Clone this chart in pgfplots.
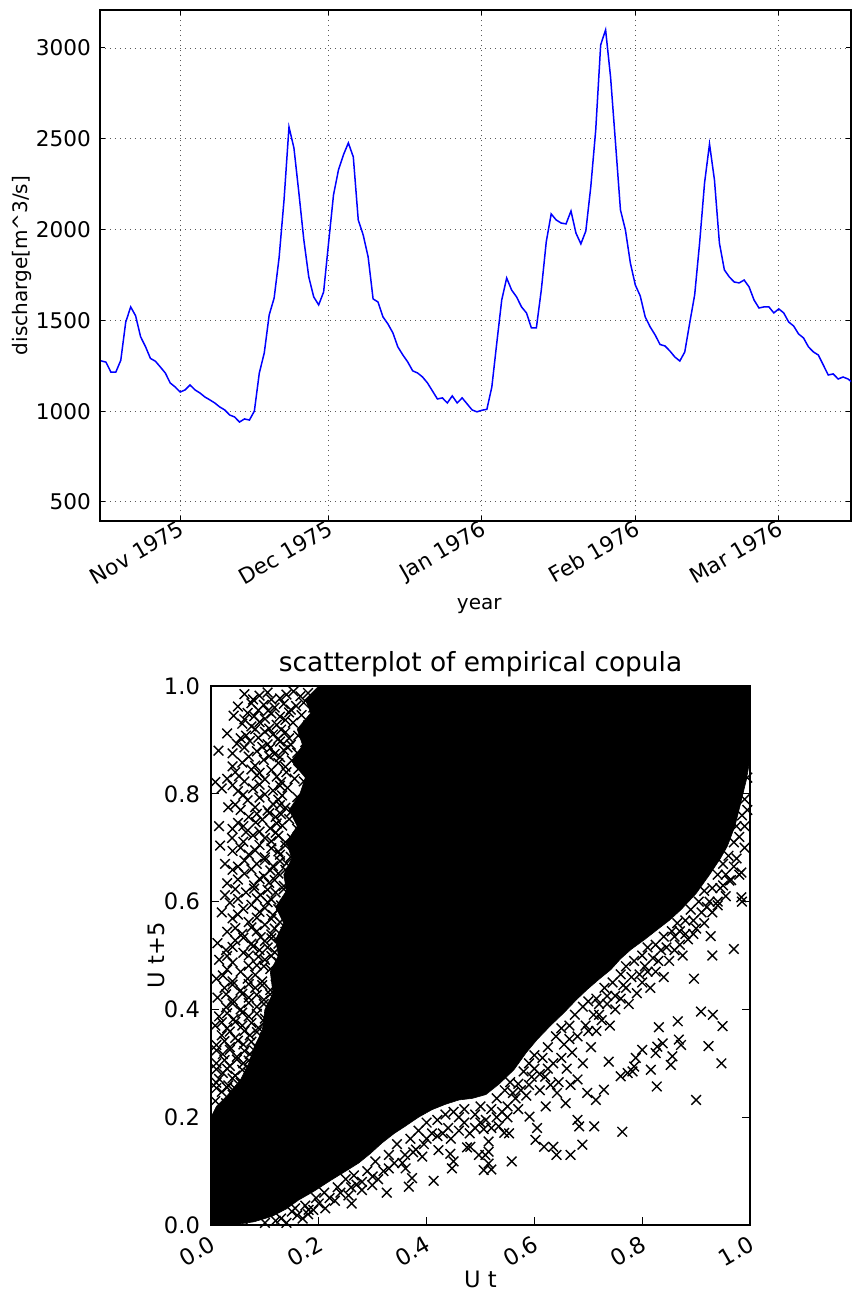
\documentclass[border=0pt]{standalone}
\usepackage{fontspec}
\setmainfont{DejaVu Sans}
\usepackage{pgfplots}
\pgfplotsset{compat=1.18}
\newcommand\fs{\fontsize{10.8}{12.5}\selectfont}
\newcommand\fl{\fontsize{10}{12}\selectfont}
\newcommand\fb{\fontsize{11.3}{13}\selectfont}
\newcommand\ft{\fontsize{13.2}{15}\selectfont}
\begin{document}
\begin{tikzpicture}
\path[use as bounding box] (0,0) rectangle (426pt,-645pt);
\begin{axis}[
 at={(50pt,-5pt)}, anchor=north west,
 scale only axis, width=375.5pt, height=255.5pt,
 xmin=-16.2, xmax=135.6, ymin=395, ymax=3209,
 xtick={0,30,61,92,121},
 xticklabels={Nov 1975,Dec 1975,Jan 1976,Feb 1976,Mar 1976},
 ytick={500,1000,1500,2000,2500,3000},
 yticklabels={500,1000,1500,2000,2500,3000},
 tick align=inside, major tick length=2.5pt,
 xticklabel style={rotate=30, anchor=north east, font=\fs, inner sep=1.5pt, yshift=3pt, xshift=1pt},
 yticklabel style={font=\fs, xshift=-1pt},
 grid=major, grid style={black!65, line width=0.45pt, dash pattern=on 0.6pt off 1.9pt},
 axis line style={line width=0.7pt},
 every tick/.style={black, line width=0.5pt},
 xlabel={year}, ylabel={discharge[m\textasciicircum3/s]},
 xlabel style={at={(axis description cs:0.505,-0.174)}, anchor=base, font=\fl},
 ylabel style={at={(axis description cs:-0.104,0.5)}, anchor=center, font=\fl},
]
\addplot[color={rgb,1:red,0;green,0;blue,1}, line width=0.75pt] coordinates {
(-16,1277) (-15,1270) (-14,1215) (-13,1215) (-12,1280) (-11,1490) (-10,1574) (-9,1525) (-8,1410) (-7,1355) (-6,1290) (-5,1275) (-4,1243) (-3,1210) (-2,1155) (-1,1133) (0,1105) (1,1117) (2,1144) (3,1117) (4,1100) (5,1078) (6,1062) (7,1045) (8,1023) (9,1007) (10,979) (11,968) (12,940) (13,957) (14,951) (15,1000) (16,1210) (17,1320) (18,1530) (19,1623) (20,1845) (21,2163) (22,2565) (23,2449) (24,2202) (25,1943) (26,1739) (27,1629) (28,1585) (29,1656) (30,1926) (31,2191) (32,2328) (33,2411) (34,2477) (35,2400) (36,2053) (37,1970) (38,1849) (39,1618) (40,1601) (41,1519) (42,1480) (43,1431) (44,1354) (45,1310) (46,1271) (47,1222) (48,1210) (49,1188) (50,1155) (51,1111) (52,1067) (53,1073) (54,1045) (55,1084) (56,1045) (57,1073) (58,1040) (59,1007) (60,996) (61,1005) (62,1010) (63,1133) (64,1375) (65,1612) (66,1733) (67,1667) (68,1629) (69,1574) (70,1541) (71,1458) (72,1458) (73,1667) (74,1932) (75,2086) (76,2053) (77,2036) (78,2031) (79,2102) (80,1981) (81,1921) (82,1992) (83,2235) (84,2548) (85,3017) (86,3099) (87,2840) (88,2477) (89,2108) (90,1998) (91,1816) (92,1695) (93,1634) (94,1519) (95,1464) (96,1420) (97,1367) (98,1359) (99,1331) (100,1298) (101,1276) (102,1326) (103,1486) (104,1640) (105,1926) (106,2257) (107,2471) (108,2273) (109,1926) (110,1778) (111,1739) (112,1711) (113,1706) (114,1722) (115,1684) (116,1612) (117,1568) (118,1574) (119,1574) (120,1541) (121,1563) (122,1541) (123,1491) (124,1469) (125,1425) (126,1403) (127,1354) (128,1326) (129,1309) (130,1254) (131,1199) (132,1205) (133,1177) (134,1188) (135,1177) (136,1155)
};
\end{axis}

\begin{axis}[
 at={(105.5pt,-343pt)}, anchor=north west,
 scale only axis, width=269.5pt, height=269.5pt,
 xmin=0, xmax=1, ymin=0, ymax=1,
 xtick={0,0.2,0.4,0.6,0.8,1}, xticklabels={0.0,0.2,0.4,0.6,0.8,1.0},
 ytick={0,0.2,0.4,0.6,0.8,1}, yticklabels={0.0,0.2,0.4,0.6,0.8,1.0},
 tick align=inside, major tick length=4pt,
 xticklabel style={rotate=30, anchor=north east, font=\fb},
 yticklabel style={font=\fb, xshift=-2pt},
 every tick/.style={black, line width=0.5pt},
 axis line style={line width=0.7pt},
 axis on top,
 title={scatterplot of empirical copula},
 title style={at={(axis description cs:0.5,1)}, anchor=base, yshift=1.5pt, font=\ft},
 xlabel={U t}, ylabel={U t+5},
 xlabel style={at={(axis description cs:0.5,-0.115)}, anchor=base, font=\fb},
 ylabel style={at={(axis description cs:-0.102,0.5)}, anchor=center, font=\fb},
]
% dense core of the point cloud
\addplot[fill=black, draw=black, line width=0.3pt] coordinates {
(0,0) (0.04,0) (0.08,0.006) (0.113,0.016) (0.14,0.03) (0.162,0.046) (0.19,0.062) (0.224,0.084) (0.25,0.1) (0.274,0.115) (0.295,0.132) (0.317,0.152) (0.34,0.17) (0.36,0.183) (0.385,0.2) (0.41,0.214) (0.435,0.224) (0.46,0.232) (0.485,0.235) (0.51,0.242) (0.535,0.262) (0.562,0.288) (0.585,0.32) (0.605,0.344) (0.63,0.37) (0.655,0.394) (0.678,0.418) (0.698,0.437) (0.72,0.456) (0.742,0.474) (0.76,0.494) (0.779,0.511) (0.805,0.53) (0.828,0.548) (0.85,0.565) (0.872,0.585) (0.9,0.615) (0.925,0.65) (0.945,0.68) (0.958,0.703) (0.972,0.74) (0.983,0.784) (0.993,0.825) (1.0,0.864) (1,1)
(0.2,1) (0.175,0.975) (0.185,0.95) (0.16,0.92) (0.17,0.89) (0.15,0.86) (0.175,0.83) (0.165,0.8) (0.145,0.77) (0.16,0.74) (0.14,0.71) (0.15,0.68) (0.135,0.65) (0.14,0.62) (0.12,0.59) (0.135,0.56) (0.12,0.53) (0.125,0.5) (0.11,0.47) (0.115,0.43) (0.1,0.4) (0.095,0.36) (0.08,0.33) (0.07,0.3) (0.055,0.27) (0.03,0.24) (0.01,0.22) (0,0.2)
} -- cycle;
% scattered points, upper left
\addplot[only marks, mark=x, mark size=3.4pt, mark options={black, line width=0.7pt}] coordinates {
(0.062,0.985) (0.09,0.982) (0.105,0.988) (0.14,0.984) (0.153,0.99) (0.166,0.981) (0.18,0.987) (0.218,0.985) (0.242,0.99) (0.256,0.982) (0.27,0.988)
(0.05,0.962) (0.075,0.968) (0.098,0.965) (0.118,0.96) (0.135,0.967) (0.158,0.963) (0.172,0.969) (0.19,0.96) (0.205,0.966) (0.235,0.962) (0.26,0.968) (0.275,0.963)
(0.042,0.945) (0.068,0.95) (0.08,0.944) (0.112,0.949) (0.128,0.943) (0.145,0.951) (0.168,0.946) (0.198,0.944) (0.225,0.95) (0.248,0.946) (0.268,0.942)
(0.058,0.93) (0.075,0.925) (0.09,0.933) (0.122,0.928) (0.152,0.932) (0.18,0.927) (0.21,0.931) (0.232,0.926) (0.255,0.933) (0.272,0.928)
(0.03,0.912) (0.065,0.908) (0.1,0.915) (0.115,0.91) (0.138,0.914) (0.162,0.908) (0.185,0.913) (0.2,0.909) (0.222,0.916) (0.245,0.91) (0.265,0.914)
(0.048,0.893) (0.072,0.898) (0.105,0.892) (0.128,0.897) (0.148,0.891) (0.175,0.896) (0.192,0.892) (0.215,0.898) (0.24,0.893) (0.258,0.897)
(0.014,0.88) (0.04,0.875) (0.085,0.879) (0.118,0.874) (0.135,0.881) (0.16,0.876) (0.183,0.88) (0.208,0.875) (0.23,0.879) (0.25,0.874) (0.262,0.881)
(0.058,0.858) (0.098,0.863) (0.125,0.857) (0.15,0.862) (0.17,0.858) (0.195,0.863) (0.22,0.857) (0.245,0.861)
(0.045,0.84) (0.075,0.845) (0.09,0.839) (0.112,0.844) (0.14,0.84) (0.162,0.846) (0.188,0.841) (0.202,0.845) (0.232,0.839) (0.255,0.844)
(0.008,0.822) (0.03,0.828) (0.062,0.823) (0.1,0.827) (0.13,0.822) (0.155,0.828) (0.172,0.823) (0.21,0.826) (0.225,0.821) (0.248,0.827)
(0.02,0.81) (0.05,0.805) (0.078,0.81) (0.115,0.806) (0.142,0.811) (0.18,0.805) (0.195,0.81) (0.218,0.806) (0.24,0.811)
(0.068,0.788) (0.09,0.793) (0.125,0.789) (0.16,0.794) (0.17,0.787) (0.205,0.792) (0.228,0.788) (0.245,0.793)
(0.032,0.775) (0.055,0.77) (0.082,0.775) (0.105,0.769) (0.138,0.774) (0.15,0.768) (0.188,0.773) (0.2,0.769) (0.215,0.775) (0.235,0.77)
(0.07,0.757) (0.095,0.752) (0.12,0.757) (0.145,0.753) (0.175,0.758) (0.195,0.752) (0.22,0.756) (0.232,0.751)
(0.015,0.74) (0.04,0.735) (0.06,0.74) (0.11,0.736) (0.132,0.741) (0.16,0.735) (0.185,0.74) (0.205,0.736) (0.228,0.741)
(0.039,0.718) (0.078,0.723) (0.1,0.718) (0.125,0.722) (0.15,0.717) (0.17,0.723) (0.19,0.718) (0.212,0.722) (0.228,0.717)
(0.017,0.704) (0.055,0.7) (0.09,0.705) (0.112,0.699) (0.138,0.704) (0.165,0.7) (0.182,0.705) (0.2,0.699) (0.22,0.704)
(0.07,0.687) (0.1,0.682) (0.128,0.687) (0.148,0.683) (0.175,0.688) (0.195,0.682) (0.212,0.687)
(0.026,0.67) (0.05,0.665) (0.085,0.67) (0.115,0.666) (0.14,0.671) (0.16,0.665) (0.185,0.67) (0.205,0.666)
(0.062,0.652) (0.098,0.647) (0.125,0.652) (0.152,0.648) (0.172,0.653) (0.19,0.647) (0.203,0.652)
(0.03,0.634) (0.08,0.63) (0.108,0.635) (0.135,0.629) (0.16,0.634) (0.18,0.63) (0.198,0.635)
(0.026,0.612) (0.065,0.617) (0.092,0.612) (0.12,0.617) (0.148,0.611) (0.17,0.616) (0.19,0.612)
(0.035,0.598) (0.075,0.594) (0.105,0.599) (0.13,0.593) (0.158,0.598) (0.178,0.594) (0.195,0.599)
(0.02,0.58) (0.05,0.576) (0.09,0.581) (0.115,0.575) (0.14,0.58) (0.165,0.576) (0.185,0.581)
(0.07,0.562) (0.1,0.557) (0.128,0.562) (0.15,0.558) (0.172,0.563) (0.19,0.557)
(0.03,0.544) (0.058,0.54) (0.085,0.545) (0.112,0.539) (0.138,0.544) (0.16,0.54) (0.18,0.545)
(0.012,0.523) (0.045,0.528) (0.075,0.522) (0.1,0.527) (0.125,0.522) (0.148,0.528) (0.17,0.523) (0.188,0.527)
(0.028,0.51) (0.06,0.505) (0.09,0.51) (0.118,0.506) (0.135,0.511) (0.16,0.505) (0.178,0.51)
(0.015,0.492) (0.04,0.487) (0.1,0.492) (0.125,0.488) (0.15,0.493) (0.17,0.487)
(0.03,0.474) (0.055,0.47) (0.11,0.475) (0.14,0.469) (0.16,0.474) (0.178,0.47)
(0.01,0.457) (0.04,0.452) (0.068,0.457) (0.095,0.452) (0.128,0.457) (0.15,0.453) (0.168,0.458)
(0.025,0.44) (0.055,0.435) (0.082,0.44) (0.11,0.436) (0.138,0.441) (0.16,0.435)
(0.012,0.422) (0.04,0.417) (0.07,0.422) (0.098,0.418) (0.122,0.423) (0.148,0.417) (0.165,0.422)
(0.028,0.404) (0.055,0.4) (0.085,0.405) (0.112,0.399) (0.135,0.404) (0.158,0.4)
(0.015,0.387) (0.042,0.382) (0.07,0.387) (0.1,0.383) (0.125,0.388) (0.148,0.382)
(0.008,0.37) (0.03,0.365) (0.058,0.37) (0.088,0.366) (0.112,0.371) (0.135,0.365) (0.15,0.37)
(0.02,0.352) (0.045,0.347) (0.072,0.352) (0.1,0.348) (0.122,0.353) (0.138,0.347)
(0.01,0.334) (0.035,0.33) (0.06,0.335) (0.085,0.329) (0.108,0.334) (0.128,0.33)
(0.022,0.317) (0.048,0.312) (0.072,0.317) (0.095,0.313) (0.115,0.318)
(0.01,0.3) (0.035,0.295) (0.06,0.3) (0.082,0.296) (0.1,0.301)
(0.022,0.282) (0.045,0.277) (0.07,0.282) (0.088,0.278)
(0.01,0.264) (0.032,0.259) (0.055,0.264) (0.072,0.26)
(0.02,0.247) (0.04,0.242) (0.058,0.247)
(0.008,0.23) (0.028,0.226)
(0.078,0.975) (0.112,0.975) (0.128,0.977) (0.088,0.955) (0.106,0.954) (0.148,0.956)
(0.062,0.938) (0.1,0.939) (0.138,0.937) (0.082,0.92) (0.108,0.921) (0.13,0.919)
(0.055,0.903) (0.088,0.904) (0.125,0.902) (0.145,0.903) (0.062,0.886) (0.095,0.887) (0.11,0.885) (0.142,0.886)
(0.07,0.869) (0.108,0.87) (0.128,0.868) (0.04,0.851) (0.082,0.852) (0.138,0.85)
(0.052,0.833) (0.085,0.834) (0.122,0.832) (0.04,0.816) (0.09,0.817) (0.128,0.815)
(0.06,0.798) (0.1,0.799) (0.132,0.797) (0.045,0.78) (0.115,0.781) (0.128,0.779)
(0.085,0.763) (0.108,0.764) (0.13,0.762) (0.05,0.746) (0.083,0.747) (0.122,0.745)
(0.065,0.729) (0.09,0.73) (0.12,0.728) (0.06,0.711) (0.112,0.712) (0.138,0.71)
(0.04,0.694) (0.082,0.695) (0.125,0.693) (0.062,0.676) (0.1,0.677) (0.128,0.675)
(0.04,0.659) (0.075,0.66) (0.11,0.658) (0.138,0.659) (0.05,0.641) (0.09,0.642) (0.118,0.64)
(0.045,0.623) (0.08,0.624) (0.105,0.622) (0.135,0.623) (0.05,0.605) (0.085,0.606) (0.112,0.604)
(0.06,0.587) (0.1,0.588) (0.125,0.586) (0.04,0.569) (0.085,0.57) (0.112,0.568)
(0.045,0.551) (0.075,0.552) (0.118,0.55) (0.06,0.533) (0.092,0.534) (0.112,0.532)
(0.04,0.516) (0.078,0.517) (0.105,0.515) (0.03,0.499) (0.07,0.5) (0.088,0.498) (0.112,0.499)
(0.07,0.481) (0.085,0.482) (0.098,0.48) (0.022,0.463) (0.082,0.464) (0.12,0.462)
(0.04,0.446) (0.07,0.447) (0.095,0.445) (0.028,0.428) (0.058,0.429) (0.085,0.427) (0.11,0.428)
(0.04,0.411) (0.07,0.412) (0.098,0.41) (0.03,0.393) (0.058,0.394) (0.085,0.392)
(0.02,0.376) (0.045,0.377) (0.075,0.375) (0.1,0.376) (0.035,0.359) (0.062,0.36) (0.085,0.358)
(0.025,0.341) (0.05,0.342) (0.075,0.34) (0.01,0.324) (0.035,0.325) (0.062,0.323) (0.08,0.324)
(0.025,0.306) (0.048,0.307) (0.07,0.305) (0.01,0.289) (0.03,0.29) (0.058,0.288)
(0.015,0.271) (0.04,0.272) (0.01,0.254) (0.03,0.255) (0.045,0.253)
};
% scattered points, lower fringe and outliers
\addplot[only marks, mark=x, mark size=3.4pt, mark options={black, line width=0.7pt}] coordinates {
(0.1,0.004) (0.13,0.012) (0.15,0.025) (0.175,0.036) (0.195,0.05) (0.21,0.06) (0.235,0.07) (0.25,0.085) (0.265,0.092) (0.29,0.1) (0.305,0.118) (0.33,0.13) (0.345,0.15) (0.37,0.16) (0.385,0.175) (0.4,0.19) (0.42,0.195) (0.435,0.205) (0.45,0.21) (0.47,0.215) (0.49,0.205) (0.5,0.22) (0.52,0.215) (0.53,0.235) (0.545,0.25) (0.555,0.265) (0.57,0.262) (0.58,0.285) (0.59,0.3) (0.6,0.315) (0.615,0.31) (0.625,0.33) (0.64,0.35) (0.65,0.365) (0.665,0.37) (0.675,0.39) (0.69,0.405) (0.7,0.415) (0.715,0.42) (0.73,0.44) (0.745,0.45) (0.76,0.465) (0.77,0.48) (0.785,0.49) (0.8,0.5) (0.81,0.515) (0.825,0.52) (0.84,0.535) (0.855,0.545) (0.865,0.56) (0.88,0.565) (0.89,0.585) (0.905,0.6) (0.915,0.62) (0.93,0.625) (0.94,0.65) (0.95,0.67) (0.96,0.685) (0.97,0.71) (0.975,0.74) (0.985,0.76) (0.99,0.79) (0.995,0.83)
(0.14,0.004) (0.17,0.012) (0.19,0.028) (0.23,0.045) (0.255,0.055) (0.27,0.075) (0.31,0.085) (0.33,0.105) (0.355,0.115) (0.375,0.135) (0.395,0.15) (0.41,0.17) (0.445,0.16) (0.46,0.2) (0.5,0.19) (0.52,0.18) (0.54,0.21) (0.56,0.245) (0.585,0.24) (0.595,0.275) (0.61,0.28) (0.625,0.29) (0.65,0.31) (0.655,0.335) (0.665,0.345) (0.68,0.35) (0.695,0.37) (0.71,0.39) (0.72,0.41) (0.735,0.425) (0.75,0.425) (0.765,0.445) (0.78,0.46) (0.795,0.465) (0.805,0.48) (0.82,0.495) (0.835,0.51) (0.845,0.515) (0.86,0.535) (0.87,0.545) (0.88,0.54) (0.895,0.565) (0.91,0.58) (0.925,0.6) (0.945,0.625) (0.955,0.65) (0.97,0.665) (0.98,0.72) (0.99,0.74) (0.995,0.77)
(0.12,0.008) (0.16,0.018) (0.2,0.04) (0.24,0.06) (0.28,0.08) (0.32,0.1) (0.36,0.13) (0.4,0.16) (0.43,0.17) (0.46,0.175) (0.55,0.2) (0.57,0.215) (0.61,0.25) (0.63,0.26) (0.7,0.36) (0.72,0.39) (0.735,0.41) (0.77,0.44) (0.81,0.47) (0.83,0.49) (0.87,0.52) (0.895,0.54) (0.92,0.59) (0.95,0.63) (0.975,0.68)
(0.18,0.02) (0.22,0.05) (0.26,0.07) (0.3,0.09) (0.34,0.115) (0.38,0.14) (0.42,0.165) (0.44,0.18) (0.47,0.19) (0.48,0.17) (0.49,0.18) (0.51,0.195) (0.53,0.2) (0.55,0.22) (0.565,0.235) (0.575,0.25) (0.59,0.26) (0.6,0.29) (0.62,0.275) (0.635,0.3) (0.645,0.265) (0.66,0.29) (0.67,0.32) (0.68,0.27) (0.69,0.3) (0.705,0.33) (0.715,0.36) (0.725,0.38) (0.74,0.37) (0.75,0.4) (0.76,0.42) (0.775,0.41) (0.79,0.43) (0.8,0.45) (0.815,0.44) (0.825,0.47) (0.84,0.46) (0.85,0.49) (0.86,0.51) (0.875,0.5) (0.885,0.53) (0.9,0.55) (0.915,0.56) (0.93,0.58) (0.94,0.6) (0.955,0.61) (0.965,0.64) (0.98,0.65) (0.99,0.7) (0.985,0.6) (0.962,0.639) (0.984,0.654) (0.984,0.608) (0.94,0.593)
(0.970,0.512) (0.930,0.500) (0.927,0.536) (0.896,0.457) (0.909,0.396) (0.931,0.390) (0.949,0.369) (0.923,0.332) (0.947,0.300) (0.900,0.232) (0.868,0.344) (0.872,0.334) (0.853,0.297) (0.856,0.313) (0.866,0.378) (0.831,0.367) (0.827,0.257) (0.828,0.331) (0.825,0.319) (0.816,0.288) (0.838,0.337) (0.800,0.325) (0.788,0.310) (0.785,0.294) (0.773,0.282) (0.782,0.285) (0.760,0.276) (0.763,0.173) (0.738,0.303) (0.729,0.251) (0.714,0.232) (0.698,0.245) (0.711,0.183) (0.680,0.195) (0.683,0.183) (0.689,0.149) (0.667,0.130) (0.658,0.226) (0.641,0.130) (0.635,0.145) (0.618,0.145) (0.602,0.158) (0.605,0.180) (0.591,0.201) (0.621,0.220) (0.558,0.118) (0.553,0.170) (0.544,0.171) (0.534,0.183) (0.506,0.178) (0.515,0.155) (0.515,0.136) (0.509,0.130) (0.497,0.130) (0.506,0.102) (0.520,0.103) (0.515,0.114) (0.481,0.145) (0.326,0.060) (0.367,0.071) (0.413,0.082) (0.373,0.087) (0.447,0.105) (0.450,0.118) (0.475,0.144) (0.444,0.132) (0.261,0.040) (0.212,0.031) (0.181,0.028) (0.299,0.074) (0.280,0.065) (0.361,0.105) (0.392,0.127) (0.422,0.139) (0.060,0.009) (0.156,0.031) (0.667,0.26) (0.642,0.245)
};
\end{axis}
\end{tikzpicture}
\end{document}
